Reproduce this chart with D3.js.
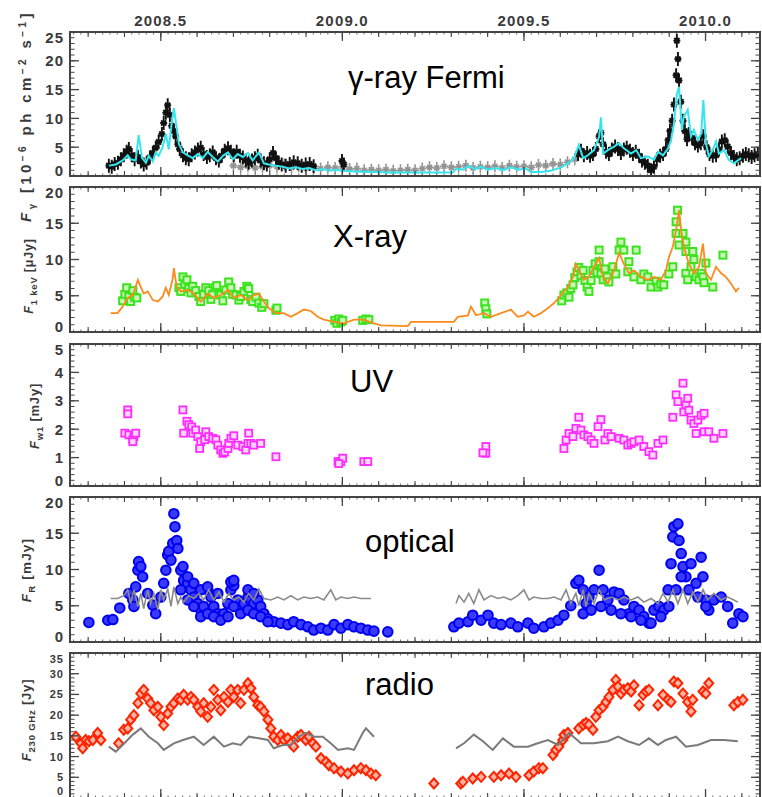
<!DOCTYPE html>
<html><head><meta charset="utf-8">
<script src="https://cdn.jsdelivr.net/npm/d3@7"></script>
<style>body{margin:0;background:#fff}svg{display:block}</style>
</head><body>
<svg id="chart" width="762" height="797"></svg>
<script>
// ---------------- DATA ----------------
const xDomain = [2008.25, 2010.15];
const xTickValues = [2008.5, 2009.0, 2009.5, 2010.0];
const xTickLabels = ["2008.5", "2009.0", "2009.5", "2010.0"];
const panelTitles = ["γ-ray Fermi", "X-ray", "UV", "optical", "radio"];
const yDomains = [[0, 25], [0, 20], [0, 5], [0, 20], [0, 35]];
const yTickValues = [[0,5,10,15,20,25],[0,5,10,15,20],[0,1,2,3,4,5],[0,5,10,15,20],[0,5,10,15,20,25,30,35]];
const yMinorStep = [1, 1, 0.2, 1, 1];

const gammaBlack = [[2008.357,1.8],[2008.365,1.6],[2008.373,2.1],[2008.382,2.3],[2008.390,2.9],[2008.398,3.6],[2008.406,4.2],[2008.412,4.7],[2008.420,3.6],[2008.428,2.9],[2008.437,3.3],[2008.445,2.5],[2008.453,2.0],[2008.461,2.3],[2008.470,3.2],[2008.478,4.0],[2008.486,4.9],[2008.494,5.9],[2008.503,7.3],[2008.508,9.2],[2008.514,11.0],[2008.519,12.3],[2008.525,10.6],[2008.530,8.7],[2008.536,7.8],[2008.541,6.9],[2008.547,5.5],[2008.552,4.7],[2008.561,3.6],[2008.569,3.1],[2008.577,2.9],[2008.585,3.6],[2008.594,4.1],[2008.602,4.6],[2008.610,4.9],[2008.618,3.8],[2008.627,3.3],[2008.635,3.6],[2008.643,4.1],[2008.652,3.1],[2008.660,2.7],[2008.668,3.5],[2008.676,4.4],[2008.685,4.8],[2008.693,4.2],[2008.701,3.6],[2008.709,4.2],[2008.718,3.5],[2008.726,3.2],[2008.734,2.7],[2008.742,2.3],[2008.751,2.7],[2008.759,3.1],[2008.767,3.5],[2008.775,2.7],[2008.784,2.2],[2008.792,2.0],[2008.800,2.9],[2008.809,4.0],[2008.817,3.1],[2008.825,2.3],[2008.833,2.0],[2008.844,1.8],[2008.855,2.1],[2008.866,2.4],[2008.877,2.2],[2008.888,1.8],[2008.899,2.0],[2008.910,2.1],[2008.921,1.7],[2008.999,2.6],[2009.004,2.0],
[2009.649,3.8],[2009.657,4.4],[2009.665,3.6],[2009.674,4.0],[2009.682,3.5],[2009.690,3.8],[2009.698,4.7],[2009.707,6.9],[2009.712,7.5],[2009.718,5.5],[2009.726,4.2],[2009.734,3.8],[2009.742,4.6],[2009.751,5.1],[2009.759,4.7],[2009.767,4.0],[2009.775,4.6],[2009.783,4.9],[2009.792,4.4],[2009.800,3.8],[2009.808,4.2],[2009.817,3.5],[2009.825,2.7],[2009.833,2.3],[2009.841,1.8],[2009.850,1.0],[2009.858,1.6],[2009.866,2.9],[2009.875,3.5],[2009.883,3.8],[2009.891,4.7],[2009.897,6.2],[2009.902,7.8],[2009.908,9.6],[2009.913,12.4],[2009.919,17.5],[2009.921,23.5],[2009.924,20.3],[2009.927,16.6],[2009.932,12.9],[2009.938,9.6],[2009.943,7.8],[2009.949,6.4],[2009.954,7.3],[2009.963,6.6],[2009.971,5.7],[2009.979,5.3],[2009.987,5.7],[2009.994,6.9],[2010.003,5.0],[2010.011,3.8],[2010.020,3.5],[2010.029,3.6],[2010.037,4.6],[2010.045,6.0],[2010.053,6.2],[2010.061,5.1],[2010.070,4.0],[2010.078,3.3],[2010.086,2.9],[2010.094,3.1],[2010.103,3.5],[2010.111,3.8],[2010.119,3.6],[2010.127,3.3],[2010.135,3.6],[2010.144,3.8]];

const gammaGrey = [[2008.70,1.8],[2008.72,1.5],[2008.74,1.7],[2008.76,1.4],[2008.78,1.6],[2008.80,1.8],[2008.82,1.6],[2008.84,2.0],[2008.86,1.5],[2008.88,1.7],[2008.90,1.4],[2008.92,1.6],[2008.94,1.3],[2008.96,1.5],[2008.98,1.4],[2009.00,1.6],[2009.02,1.2],[2009.04,1.3],[2009.06,1.0],[2009.08,1.1],[2009.10,1.0],[2009.12,1.1],[2009.14,0.9],[2009.16,1.0],[2009.18,1.1],[2009.20,1.0],[2009.22,1.3],[2009.24,1.5],[2009.26,1.4],[2009.28,1.7],[2009.30,1.5],[2009.32,1.6],[2009.34,1.8],[2009.36,1.4],[2009.38,1.6],[2009.40,1.5],[2009.42,1.7],[2009.44,1.4],[2009.46,1.8],[2009.48,1.6],[2009.50,1.7],[2009.52,1.5],[2009.54,1.9],[2009.56,1.8],[2009.58,2.1],[2009.60,2.0],[2009.62,2.4],[2009.64,2.9]];

const gammaModel = [[2008.357,1.8],[2008.376,2.0],[2008.395,2.7],[2008.409,3.6],[2008.417,2.9],[2008.431,2.7],[2008.439,7.1],[2008.448,3.2],[2008.459,2.3],[2008.467,3.5],[2008.478,2.5],[2008.486,4.1],[2008.494,3.5],[2008.505,5.0],[2008.514,7.3],[2008.522,4.6],[2008.530,9.2],[2008.536,11.8],[2008.544,8.3],[2008.550,5.5],[2008.561,4.1],[2008.574,3.6],[2008.588,3.1],[2008.602,3.8],[2008.616,3.1],[2008.629,4.2],[2008.643,3.3],[2008.657,2.5],[2008.671,3.5],[2008.685,4.1],[2008.698,2.9],[2008.712,3.8],[2008.726,3.3],[2008.740,4.0],[2008.753,2.7],[2008.770,4.1],[2008.784,2.2],[2008.797,2.0],[2008.817,1.8],[2008.836,1.6],[2008.853,1.3],[2008.872,1.5],[2008.891,1.2],[2008.908,1.4],[2008.927,1.0],[2008.946,1.2],[2008.963,0.9],[2008.982,1.1],[2009.001,0.9],[2009.037,0.8],[2009.084,0.7],[2009.134,0.6],[2009.216,0.6],[2009.304,0.6],[2009.313,1.3],[2009.332,1.1],[2009.348,1.8],[2009.365,1.2],[2009.382,1.6],[2009.401,1.1],[2009.423,1.4],[2009.442,1.0],[2009.464,1.5],[2009.486,1.1],[2009.505,1.3],[2009.519,0.7],[2009.547,0.7],[2009.574,0.9],[2009.602,1.5],[2009.621,2.2],[2009.638,3.1],[2009.651,5.4],[2009.663,3.1],[2009.676,3.6],[2009.693,4.5],[2009.707,6.8],[2009.712,10.2],[2009.718,3.9],[2009.731,4.5],[2009.748,5.1],[2009.762,5.7],[2009.775,4.8],[2009.795,3.9],[2009.809,4.5],[2009.822,3.1],[2009.841,3.4],[2009.858,2.8],[2009.869,4.2],[2009.883,3.6],[2009.897,4.8],[2009.905,6.2],[2009.913,9.1],[2009.921,14.2],[2009.927,15.5],[2009.935,8.0],[2009.940,10.3],[2009.951,11.5],[2009.960,6.9],[2009.968,8.0],[2009.979,6.2],[2009.988,7.4],[2009.994,13.2],[2010.001,5.7],[2010.009,3.4],[2010.020,4.5],[2010.029,6.0],[2010.037,3.9],[2010.051,4.5],[2010.064,2.8],[2010.078,2.2],[2010.098,3.1]];

const xrayModel = [[2008.362,2.6],[2008.381,2.6],[2008.395,3.5],[2008.409,4.7],[2008.423,5.1],[2008.437,7.2],[2008.445,6.2],[2008.453,5.3],[2008.464,5.6],[2008.478,4.4],[2008.492,4.2],[2008.505,4.9],[2008.514,6.1],[2008.522,5.1],[2008.533,7.4],[2008.536,8.8],[2008.544,6.2],[2008.555,5.6],[2008.574,5.8],[2008.591,5.3],[2008.610,4.2],[2008.629,5.3],[2008.646,4.7],[2008.665,5.1],[2008.685,5.8],[2008.701,4.7],[2008.720,5.1],[2008.740,4.4],[2008.756,5.1],[2008.770,5.3],[2008.784,4.2],[2008.797,3.3],[2008.817,2.6],[2008.839,2.6],[2008.858,2.1],[2008.877,2.6],[2008.894,3.1],[2008.913,2.9],[2008.932,2.1],[2008.949,1.7],[2008.977,1.4],[2009.004,1.2],[2009.032,1.7],[2009.059,1.7],[2009.087,1.2],[2009.106,0.9],[2009.180,0.8],[2009.189,1.4],[2009.307,1.4],[2009.318,2.1],[2009.346,2.3],[2009.354,3.5],[2009.368,2.3],[2009.390,2.6],[2009.409,2.1],[2009.437,2.6],[2009.464,3.1],[2009.483,2.1],[2009.500,2.3],[2009.511,2.8],[2009.527,2.1],[2009.547,2.6],[2009.566,3.3],[2009.583,4.0],[2009.602,5.1],[2009.621,6.2],[2009.635,7.6],[2009.643,9.4],[2009.651,8.5],[2009.665,7.2],[2009.679,7.6],[2009.693,9.0],[2009.707,10.2],[2009.718,7.6],[2009.731,6.7],[2009.748,8.5],[2009.762,10.9],[2009.775,9.4],[2009.789,8.1],[2009.803,8.5],[2009.822,7.6],[2009.841,7.2],[2009.858,7.6],[2009.877,7.2],[2009.891,8.5],[2009.899,10.3],[2009.910,11.8],[2009.919,14.1],[2009.927,16.8],[2009.933,14.1],[2009.940,11.8],[2009.954,9.4],[2009.968,8.1],[2009.982,9.0],[2009.993,12.2],[2010.001,8.1],[2010.015,7.2],[2010.029,9.0],[2010.043,8.1],[2010.056,7.6],[2010.070,6.7],[2010.084,5.6],[2010.092,6.1]];

const xrayObs = [[2008.395,4.3],[2008.401,5.2],[2008.406,6.1],[2008.412,4.9],[2008.417,4.2],[2008.423,5.7],[2008.428,4.8],[2008.434,4.7],
[2008.550,6.1],[2008.555,5.6],[2008.561,7.6],[2008.566,6.6],[2008.572,7.2],[2008.577,6.0],[2008.583,5.4],[2008.588,6.3],[2008.596,5.7],[2008.605,4.9],[2008.610,4.2],[2008.618,5.2],[2008.624,6.1],[2008.632,5.7],[2008.638,4.5],[2008.643,5.2],[2008.649,6.1],[2008.654,6.4],[2008.660,5.2],[2008.665,5.1],[2008.671,4.3],[2008.679,5.8],[2008.687,6.9],[2008.693,6.1],[2008.698,5.2],[2008.707,5.1],[2008.715,4.4],[2008.720,4.9],[2008.729,5.6],[2008.737,6.3],[2008.742,6.0],[2008.748,4.5],[2008.753,4.2],[2008.762,4.8],[2008.770,4.0],[2008.778,3.4],[2008.784,3.9],
[2008.817,3.0],[2008.820,3.3],
[2008.979,1.6],[2008.985,1.2],[2008.990,1.8],[2008.996,1.4],[2009.001,1.6],[2009.056,1.6],[2009.065,1.8],[2009.073,1.7],
[2009.392,4.0],[2009.395,3.2],[2009.398,2.5],
[2009.604,4.3],[2009.610,5.1],[2009.618,5.4],[2009.624,4.8],[2009.629,6.0],[2009.635,6.5],[2009.640,7.5],[2009.646,8.3],[2009.651,8.9],[2009.657,7.8],[2009.663,8.5],[2009.668,7.1],[2009.674,6.2],[2009.679,5.6],[2009.685,7.1],[2009.690,8.5],[2009.696,9.4],[2009.701,8.2],[2009.707,11.3],[2009.707,9.7],[2009.712,8.0],[2009.718,7.2],[2009.723,8.7],[2009.729,7.6],[2009.734,6.9],[2009.745,9.0],[2009.753,8.0],
[2009.762,11.3],[2009.767,12.4],[2009.775,11.3],[2009.786,8.3],[2009.789,9.7],[2009.803,7.6],[2009.809,11.3],[2009.822,7.2],[2009.830,8.0],[2009.841,7.6],[2009.850,6.2],[2009.864,7.0],[2009.869,6.2],[2009.877,6.6],[2009.885,6.5],[2009.899,8.0],[2009.910,9.0],[2009.919,13.6],[2009.919,15.2],[2009.923,16.8],[2009.927,12.0],[2009.938,13.6],[2009.946,12.4],[2009.946,11.1],[2009.946,8.1],[2009.951,7.2],[2009.960,9.0],[2009.965,11.1],[2009.968,10.0],[2009.974,7.6],[2009.982,7.2],[2009.988,8.1],[2009.993,7.6],[2009.996,6.8],[2010.001,9.5],[2010.020,6.2],[2010.048,10.6]];

const uvObs = [[2008.409,2.68],[2008.409,2.54],[2008.401,1.86],[2008.412,1.80],[2008.426,1.74],[2008.423,1.63],[2008.431,1.86],[2008.423,1.56],
[2008.561,2.68],[2008.563,1.86],[2008.572,2.28],[2008.577,2.16],[2008.585,2.08],[2008.588,1.86],[2008.596,1.97],[2008.602,1.74],[2008.610,1.56],[2008.607,1.32],[2008.621,1.63],[2008.624,1.91],[2008.632,1.74],[2008.643,1.68],[2008.652,1.63],[2008.657,1.44],[2008.665,1.27],[2008.671,1.15],[2008.676,1.20],[2008.685,1.32],[2008.687,1.50],[2008.693,1.68],[2008.701,1.77],[2008.712,1.44],[2008.726,1.39],[2008.734,1.27],[2008.740,1.50],[2008.742,1.86],[2008.748,1.50],[2008.756,1.44],[2008.775,1.50],[2008.817,1.03],
[2008.988,0.86],[2008.996,0.86],[2009.001,0.98],[2008.990,0.79],[2009.059,0.86],[2009.070,0.86],
[2009.395,1.39],[2009.395,1.15],[2009.387,1.17],
[2009.610,1.32],[2009.616,1.62],[2009.624,1.85],[2009.635,1.74],[2009.643,2.03],[2009.651,2.42],[2009.657,1.97],[2009.665,1.80],[2009.676,1.74],[2009.685,1.62],[2009.693,1.50],[2009.704,2.09],[2009.712,2.34],[2009.723,1.62],[2009.731,1.85],[2009.740,1.74],[2009.762,1.68],[2009.775,1.62],[2009.786,1.44],[2009.795,1.50],[2009.803,1.56],[2009.817,1.62],[2009.830,1.39],[2009.844,1.21],[2009.855,1.09],[2009.869,1.50],[2009.883,1.62],
[2009.910,2.42],[2009.919,3.21],[2009.924,2.97],[2009.938,3.62],[2009.940,2.61],[2009.946,2.85],[2009.951,3.09],[2009.954,2.67],[2009.960,2.32],[2009.968,2.20],[2009.979,2.32],[2009.988,2.49],[2009.996,2.56],[2009.974,1.85],[2009.996,1.91],[2010.009,1.91],[2010.023,1.68],[2010.048,1.85]];

const opticalObs = [[2008.302,2.7],[2008.354,3.0],[2008.368,3.1],[2008.387,4.7],[2008.412,6.7],[2008.423,5.8],[2008.426,4.9],[2008.431,7.6],[2008.437,9.9],[2008.439,11.1],[2008.445,10.4],[2008.450,9.0],[2008.464,6.7],[2008.478,5.1],[2008.486,3.9],
[2008.500,6.2],[2008.508,8.1],[2008.514,9.9],[2008.519,12.0],[2008.522,12.5],[2008.528,11.3],[2008.533,13.6],[2008.536,17.7],[2008.539,15.9],[2008.544,14.0],[2008.547,12.9],
[2008.555,9.9],[2008.563,8.5],[2008.574,8.1],[2008.583,7.2],[2008.591,6.2],[2008.602,5.3],[2008.610,4.4],[2008.618,4.9],[2008.629,7.2],[2008.638,6.2],[2008.646,4.9],[2008.657,3.9],[2008.665,3.5],[2008.674,3.9],[2008.685,5.3],[2008.693,7.2],[2008.701,7.8],[2008.712,5.8],[2008.720,4.4],[2008.729,5.3],[2008.740,6.2],[2008.748,5.8],[2008.756,5.3],[2008.767,5.8],[2008.775,4.9],[2008.784,3.9],[2008.795,3.2],[2008.811,2.8],[2008.831,2.6],[2008.850,2.4],[2008.866,2.8],[2008.886,2.4],[2008.905,2.1],[2008.921,1.65],[2008.941,1.9],[2008.960,1.65],[2008.977,2.4],[2008.996,1.9],[2009.015,2.4],[2009.032,2.1],[2009.051,1.9],[2009.070,1.65],[2009.087,1.5],[2009.125,1.4],
[2008.555,7.2],[2008.574,5.8],[2008.591,4.9],[2008.610,3.5],[2008.629,3.9],[2008.646,3.5],[2008.665,3.0],[2008.685,3.5],[2008.701,4.9],[2008.720,3.9],[2008.740,4.4],[2008.756,3.9],[2008.775,3.5],[2008.795,2.8],
[2008.561,10.4],[2008.574,9.0],[2008.591,8.1],[2008.610,7.2],[2008.629,7.6],[2008.657,6.7],[2008.693,8.3],[2008.701,8.5],[2008.740,7.2],[2008.756,6.7],
[2009.307,2.1],[2009.321,2.6],[2009.346,2.8],[2009.359,3.7],[2009.382,3.0],[2009.401,3.7],[2009.417,2.6],[2009.437,2.4],[2009.464,2.6],[2009.483,2.1],[2009.511,2.6],[2009.527,1.9],[2009.555,2.1],[2009.574,2.6],[2009.594,3.0],[2009.610,3.7],[2009.629,5.0],[2009.643,8.1],[2009.651,8.5],[2009.663,7.2],[2009.671,5.3],[2009.679,6.2],[2009.693,7.2],[2009.707,9.9],[2009.718,7.2],[2009.731,5.8],[2009.748,6.9],[2009.762,6.7],[2009.775,5.8],[2009.789,3.9],[2009.803,4.9],[2009.817,4.4],[2009.830,3.5],[2009.844,2.6],[2009.858,4.4],[2009.872,4.9],[2009.885,4.4],[2009.897,7.2],[2009.905,10.8],[2009.910,14.5],[2009.913,15.9],[2009.924,16.3],[2009.927,14.0],[2009.933,12.2],[2009.938,10.4],[2009.946,9.0],[2009.960,10.8],[2009.974,8.1],[2009.988,11.7],[2009.993,9.0],[2010.001,5.8],[2010.009,4.4],[2010.023,5.8],[2010.043,6.2],[2010.061,4.9],[2010.075,2.6],[2010.092,3.9],[2010.103,3.5],
[2009.663,3.9],[2009.685,4.4],[2009.712,4.9],[2009.740,4.4],[2009.767,3.9],[2009.795,3.5],[2009.822,3.0],[2009.850,2.6],[2009.877,3.5],[2009.899,4.9],[2009.919,7.2],[2009.933,9.0],[2009.954,7.2],[2009.979,6.2],[2010.001,4.9]];

const opticalRef = [[2008.362,6.0],[2008.381,6.0],[2008.398,6.4],[2008.409,7.2],[2008.417,5.3],[2008.426,7.2],[2008.437,4.9],[2008.445,6.7],[2008.453,4.6],[2008.464,7.2],[2008.472,5.3],[2008.481,6.7],[2008.492,4.4],[2008.500,7.2],[2008.508,5.8],[2008.519,7.3],[2008.528,4.9],[2008.536,7.6],[2008.547,5.3],[2008.555,6.2],[2008.563,5.5],[2008.577,6.4],[2008.591,6.0],[2008.605,6.7],[2008.618,5.8],[2008.632,7.2],[2008.646,5.8],[2008.660,6.9],[2008.674,5.5],[2008.687,6.7],[2008.701,5.8],[2008.715,6.2],[2008.729,5.5],[2008.742,6.7],[2008.756,5.8],[2008.770,7.3],[2008.784,6.0],[2008.803,5.8],[2008.822,6.2],[2008.839,5.8],[2008.858,6.4],[2008.877,5.8],[2008.894,6.2],[2008.913,6.0],[2008.932,6.2],[2008.949,5.8],[2008.968,7.2],[2008.982,5.8],[2008.996,6.2],[2009.015,6.0],[2009.032,6.2],[2009.051,6.0],[2009.079,6.0],
null,
[2009.313,5.3],[2009.321,6.4],[2009.335,5.5],[2009.348,6.7],[2009.362,5.3],[2009.376,7.2],[2009.390,5.8],[2009.409,6.4],[2009.428,6.0],[2009.445,6.2],[2009.464,5.8],[2009.483,6.4],[2009.500,7.2],[2009.514,5.8],[2009.527,6.2],[2009.547,6.0],[2009.566,6.0],[2009.583,6.2],[2009.602,5.8],[2009.616,7.2],[2009.629,5.3],[2009.643,6.7],[2009.651,5.0],[2009.663,7.2],[2009.671,4.9],[2009.679,6.7],[2009.693,5.3],[2009.707,7.2],[2009.721,5.8],[2009.740,6.2],[2009.759,5.8],[2009.775,6.2],[2009.795,5.8],[2009.814,6.2],[2009.830,5.5],[2009.850,6.0],[2009.869,5.3],[2009.883,6.7],[2009.897,5.5],[2009.910,7.2],[2009.924,5.3],[2009.938,7.2],[2009.951,5.3],[2009.965,6.9],[2009.979,5.5],[2009.993,7.2],[2010.007,5.8],[2010.023,6.7],[2010.043,5.8],[2010.061,6.2],[2010.078,5.8],[2010.089,5.5]];

const radioObs = [[2008.266,14.8],[2008.280,13.2],[2008.285,12.0],[2008.293,14.0],[2008.302,13.7],[2008.313,14.0],[2008.326,15.7],[2008.335,14.0],
[2008.384,13.2],[2008.398,16.5],[2008.409,16.8],[2008.417,18.9],[2008.426,20.0],[2008.437,22.9],[2008.445,25.2],[2008.453,26.1],[2008.464,24.0],[2008.472,22.9],[2008.481,21.2],[2008.492,22.0],[2008.500,19.6],[2008.508,17.6],[2008.519,20.4],[2008.528,22.0],[2008.536,22.9],[2008.547,24.0],[2008.555,23.7],[2008.563,24.9],[2008.574,23.7],[2008.583,24.4],[2008.591,23.7],[2008.602,22.0],[2008.610,20.9],[2008.618,22.9],[2008.629,19.6],[2008.638,22.0],[2008.646,26.1],[2008.657,23.7],[2008.665,21.2],[2008.674,24.4],[2008.685,23.2],[2008.693,26.1],[2008.701,24.4],[2008.712,26.1],[2008.720,22.9],[2008.729,26.1],[2008.740,27.7],[2008.748,26.5],[2008.756,24.4],[2008.767,22.4],[2008.775,22.0],[2008.784,20.9],[2008.795,18.9],[2008.803,16.8],[2008.811,14.8],[2008.822,14.0],[2008.831,15.2],[2008.839,14.0],[2008.850,14.4],[2008.858,13.2],[2008.866,12.4],[2008.877,14.8],[2008.886,15.2],[2008.899,14.0],[2008.908,14.8],[2008.919,13.2],[2008.927,12.4],[2008.941,9.6],[2008.955,8.7],[2008.963,7.9],[2008.977,7.2],[2008.996,6.4],[2009.015,5.9],[2009.032,6.7],[2009.051,7.2],[2009.065,6.7],[2009.079,5.9],[2009.092,5.5],
[2009.252,3.5],[2009.326,3.5],[2009.332,3.9],[2009.359,4.7],[2009.382,5.1],[2009.417,5.1],[2009.437,5.5],[2009.459,5.9],[2009.478,5.1],[2009.514,5.5],[2009.527,6.4],[2009.541,7.2],[2009.552,7.2],[2009.580,10.4],[2009.588,11.6],[2009.596,12.4],[2009.607,14.0],[2009.610,15.2],[2009.621,15.7],[2009.651,16.8],[2009.663,17.7],[2009.671,18.1],[2009.679,17.7],[2009.690,16.5],[2009.698,19.6],[2009.707,21.2],[2009.718,22.0],[2009.726,23.2],[2009.734,24.4],[2009.745,26.1],[2009.753,28.5],[2009.759,26.9],[2009.767,25.2],[2009.775,26.1],[2009.786,26.5],[2009.795,25.7],[2009.803,27.2],[2009.817,22.4],[2009.828,24.9],[2009.836,25.7],[2009.844,26.1],[2009.869,22.4],[2009.883,24.9],[2009.897,23.7],[2009.905,23.2],[2009.913,28.1],[2009.924,27.7],[2009.938,25.2],[2009.951,23.2],[2009.960,20.9],[2009.965,23.7],[2009.993,25.7],[2010.001,25.2],[2010.009,27.7],[2010.078,22.4],[2010.089,23.2],[2010.103,23.7]];

const radioRef = [[2008.357,12.4],[2008.376,11.2],[2008.395,12.8],[2008.423,15.3],[2008.445,16.8],[2008.467,14.8],[2008.492,13.2],[2008.508,11.6],[2008.536,13.2],[2008.561,14.0],[2008.591,14.8],[2008.618,12.8],[2008.646,14.8],[2008.674,12.4],[2008.698,13.2],[2008.720,12.8],[2008.742,14.8],[2008.770,14.4],[2008.795,14.0],[2008.811,12.0],[2008.836,12.8],[2008.858,12.8],[2008.880,14.8],[2008.899,15.7],[2008.921,14.8],[2008.946,14.8],[2008.968,13.2],[2008.988,11.6],[2009.015,12.0],[2009.032,11.6],[2009.056,15.7],[2009.065,16.8],[2009.087,14.8],
null,
[2009.313,12.0],[2009.335,13.2],[2009.362,15.3],[2009.387,13.7],[2009.414,11.6],[2009.442,14.4],[2009.472,12.4],[2009.511,12.4],[2009.538,13.2],[2009.566,14.0],[2009.594,12.8],[2009.624,15.7],[2009.657,13.2],[2009.693,13.2],[2009.731,13.7],[2009.759,14.8],[2009.786,13.7],[2009.817,12.8],[2009.844,14.4],[2009.869,12.8],[2009.891,14.0],[2009.919,14.8],[2009.946,12.4],[2009.979,12.8],[2010.015,14.0],[2010.051,14.0],[2010.089,13.7]];

// ---------------- LAYOUT ----------------
const W = 762, H = 797, L = 70, R = 760;
const boxes = [[32,176],[187,332],[344,486],[497,642],[653,798]];
const titlePos = [[348,88],[333,247],[350,392],[365,552],[365,695]];
const yTitlePos = [[31,116],[33,276],[39,416],[31,570],[31,720]];
const yTitleSize = [[15,3.4],[12.5,0.8],[13,0.8],[13.5,1.2],[13,0.8]];
const yLabelSize = [15, 15, 15, 15, 11];
const yTitles = [
  [{t:"F",i:1},{t:"γ",sub:1},{t:" [10"},{t:"−6",sup:1},{t:" ph cm"},{t:"−2",sup:1},{t:" s"},{t:"−1",sup:1},{t:"]"}],
  [{t:"F",i:1},{t:"1 keV",sub:1},{t:" [μJy]"}],
  [{t:"F",i:1},{t:"w1",sub:1},{t:" [mJy]"}],
  [{t:"F",i:1},{t:"R",sub:1},{t:" [mJy]"}],
  [{t:"F",i:1},{t:"230 GHz",sub:1},{t:" [Jy]"}]
];

const svg = d3.select("#chart");
const x = d3.scaleLinear().domain(xDomain).range([L, R]);
const frameCol = "#444";
const tickFont = "'Liberation Sans', Arial, Helvetica, sans-serif";

const defs = svg.append("defs");
const yScales = boxes.map((b, i) => d3.scaleLinear().domain(yDomains[i]).range([b[1], b[0]]));

boxes.forEach((b, i) => {
  defs.append("clipPath").attr("id", "clip" + i)
    .append("rect").attr("x", L).attr("y", b[0]).attr("width", R - L).attr("height", b[1] - b[0]);
});

function panelG(i) { return svg.append("g").attr("clip-path", `url(#clip${i})`); }

const crossPath = "M0,-7V7M-3.5,0H3.5M-2.6,-2.6L2.6,2.6M-2.6,2.6L2.6,-2.6";
const greyPath = "M0,-6V6M-4,0H4M-2.5,-2.5L2.5,2.5M-2.5,2.5L2.5,-2.5";
const diamondPath = "M0,-5L4.5,0L0,5L-4.5,0Z";

// ---- Panel 0: gamma ----
{
  const y = yScales[0], g = panelG(0);
  g.selectAll(".gg").data(gammaGrey).enter().append("path")
    .attr("d", greyPath).attr("transform", d => `translate(${x(d[0])},${y(d[1])})`)
    .attr("stroke", "#939393").attr("stroke-width", 1.6).attr("fill", "none");
  g.selectAll(".gb").data(gammaBlack).enter().append("path")
    .attr("d", crossPath).attr("transform", d => `translate(${x(d[0])},${y(d[1])})`)
    .attr("stroke", "#111").attr("stroke-width", 1.9).attr("fill", "none");
  g.append("path").datum(gammaModel)
    .attr("d", d3.line().x(d => x(d[0])).y(d => y(d[1])))
    .attr("fill", "none").attr("stroke", "#36e6ee").attr("stroke-width", 2);
}
// ---- Panel 1: X-ray ----
{
  const y = yScales[1], g = panelG(1);
  g.selectAll(".xs").data(xrayObs).enter().append("rect")
    .attr("x", d => x(d[0]) - 3.5).attr("y", d => y(d[1]) - 3.5).attr("width", 7).attr("height", 7)
    .attr("fill", "#c9f8b8").attr("stroke", "#3be21d").attr("stroke-width", 2);
  g.append("path").datum(xrayModel)
    .attr("d", d3.line().x(d => x(d[0])).y(d => y(d[1])))
    .attr("fill", "none").attr("stroke", "#ff8a1c").attr("stroke-width", 1.8);
}
// ---- Panel 2: UV ----
{
  const y = yScales[2], g = panelG(2);
  g.selectAll(".us").data(uvObs).enter().append("rect")
    .attr("x", d => x(d[0]) - 3.5).attr("y", d => y(d[1]) - 3.5).attr("width", 7).attr("height", 7)
    .attr("fill", "#ffd8ff").attr("stroke", "#ff2cff").attr("stroke-width", 1.8);
}
// ---- Panel 3: optical ----
{
  const y = yScales[3], g = panelG(3);
  g.selectAll(".oc").data(opticalObs).enter().append("circle")
    .attr("cx", d => x(d[0])).attr("cy", d => y(d[1])).attr("r", 4.8)
    .attr("fill", "#3a3aff").attr("stroke", "#0000f0").attr("stroke-width", 2);
  g.append("path").datum(opticalRef)
    .attr("d", d3.line().defined(d => d).x(d => x(d[0])).y(d => y(d[1])))
    .attr("fill", "none").attr("stroke", "#8a8a8a").attr("stroke-width", 1.6);
}
// ---- Panel 4: radio ----
{
  const y = yScales[4], g = panelG(4);
  g.selectAll(".rd").data(radioObs).enter().append("path")
    .attr("d", diamondPath).attr("transform", d => `translate(${x(d[0])},${y(d[1])})`)
    .attr("fill", "#ffb3a3").attr("stroke", "#ff2400").attr("stroke-width", 2);
  g.append("path").datum(radioRef)
    .attr("d", d3.line().defined(d => d).x(d => x(d[0])).y(d => y(d[1])))
    .attr("fill", "none").attr("stroke", "#7a7a7a").attr("stroke-width", 2);
}

// ---- frames, ticks, labels ----
const xMajor = d3.range(2008.5, 2010.2, 0.5);
const xMid = d3.range(2008.3, 2010.16, 0.1);
const xFine = d3.range(2008.26, 2010.151, 0.02);

boxes.forEach((b, i) => {
  const y = yScales[i];
  const ax = svg.append("g").attr("stroke", frameCol).attr("fill", "none");
  const addX = (vals, len, w) => {
    vals.forEach(v => {
      const px = x(v);
      ax.append("line").attr("x1", px).attr("x2", px).attr("y1", b[0]).attr("y2", b[0] + len).attr("stroke-width", w);
      ax.append("line").attr("x1", px).attr("x2", px).attr("y1", b[1]).attr("y2", b[1] - len).attr("stroke-width", w);
    });
  };
  addX(xFine, 2.5, 0.8);
  addX(xMid, 5, 1.1);
  addX(xMajor, 9, 1.3);
  const [d0, d1] = yDomains[i];
  const minors = d3.range(d0, d1 + 1e-9, yMinorStep[i]);
  const addY = (vals, len, w) => {
    vals.forEach(v => {
      const py = y(v);
      ax.append("line").attr("x1", L).attr("x2", L + len).attr("y1", py).attr("y2", py).attr("stroke-width", w);
      ax.append("line").attr("x1", R).attr("x2", R - len).attr("y1", py).attr("y2", py).attr("stroke-width", w);
    });
  };
  addY(minors, 4.5, 1);
  addY(yTickValues[i], 9, 1.3);
  ax.append("rect").attr("x", L).attr("y", b[0]).attr("width", R - L).attr("height", b[1] - b[0])
    .attr("stroke-width", 2);
  // y labels
  const fs = yLabelSize[i];
  const bottomPad = i === 4 ? 7 : 5;
  svg.append("g").selectAll("text").data(yTickValues[i]).enter().append("text")
    .attr("x", 64)
    .attr("y", v => Math.max(b[0] + 6, Math.min(b[1] - bottomPad, y(v))))
    .attr("dy", "0.36em").attr("text-anchor", "end")
    .attr("font-family", tickFont).attr("font-weight", "bold").attr("font-size", fs)
    .attr("letter-spacing", 1).attr("fill", "#3a3a3a")
    .text(v => v);
  // panel title
  svg.append("text").attr("x", titlePos[i][0]).attr("y", titlePos[i][1])
    .attr("font-family", "'Liberation Sans', Arial, sans-serif").attr("font-size", 31).attr("fill", "#000")
    .text(panelTitles[i]);
  // y axis title
  const t = svg.append("text")
    .attr("transform", `translate(${yTitlePos[i][0]},${yTitlePos[i][1]}) rotate(-90)`)
    .attr("text-anchor", "middle")
    .attr("font-family", tickFont).attr("font-weight", "bold").attr("font-size", yTitleSize[i][0])
    .attr("letter-spacing", yTitleSize[i][1]).attr("fill", "#3a3a3a");
  let shift = 0;
  yTitles[i].forEach(seg => {
    const ts = t.append("tspan").text(seg.t);
    let target = 0;
    if (seg.sup) { target = -5; ts.attr("font-size", 10); }
    if (seg.sub) { target = 3.5; ts.attr("font-size", 9.5); }
    if (seg.i) ts.attr("font-style", "italic");
    ts.attr("dy", target - shift);
    shift = target;
  });
});

// top x tick labels
svg.append("g").selectAll("text").data(xTickValues).enter().append("text")
  .attr("x", d => x(d)).attr("y", 26).attr("text-anchor", "middle")
  .attr("font-family", tickFont).attr("font-weight", "bold").attr("font-size", 15)
  .attr("letter-spacing", 1.2).attr("fill", "#3a3a3a")
  .text((d, i) => xTickLabels[i]);
</script>
</body></html>
